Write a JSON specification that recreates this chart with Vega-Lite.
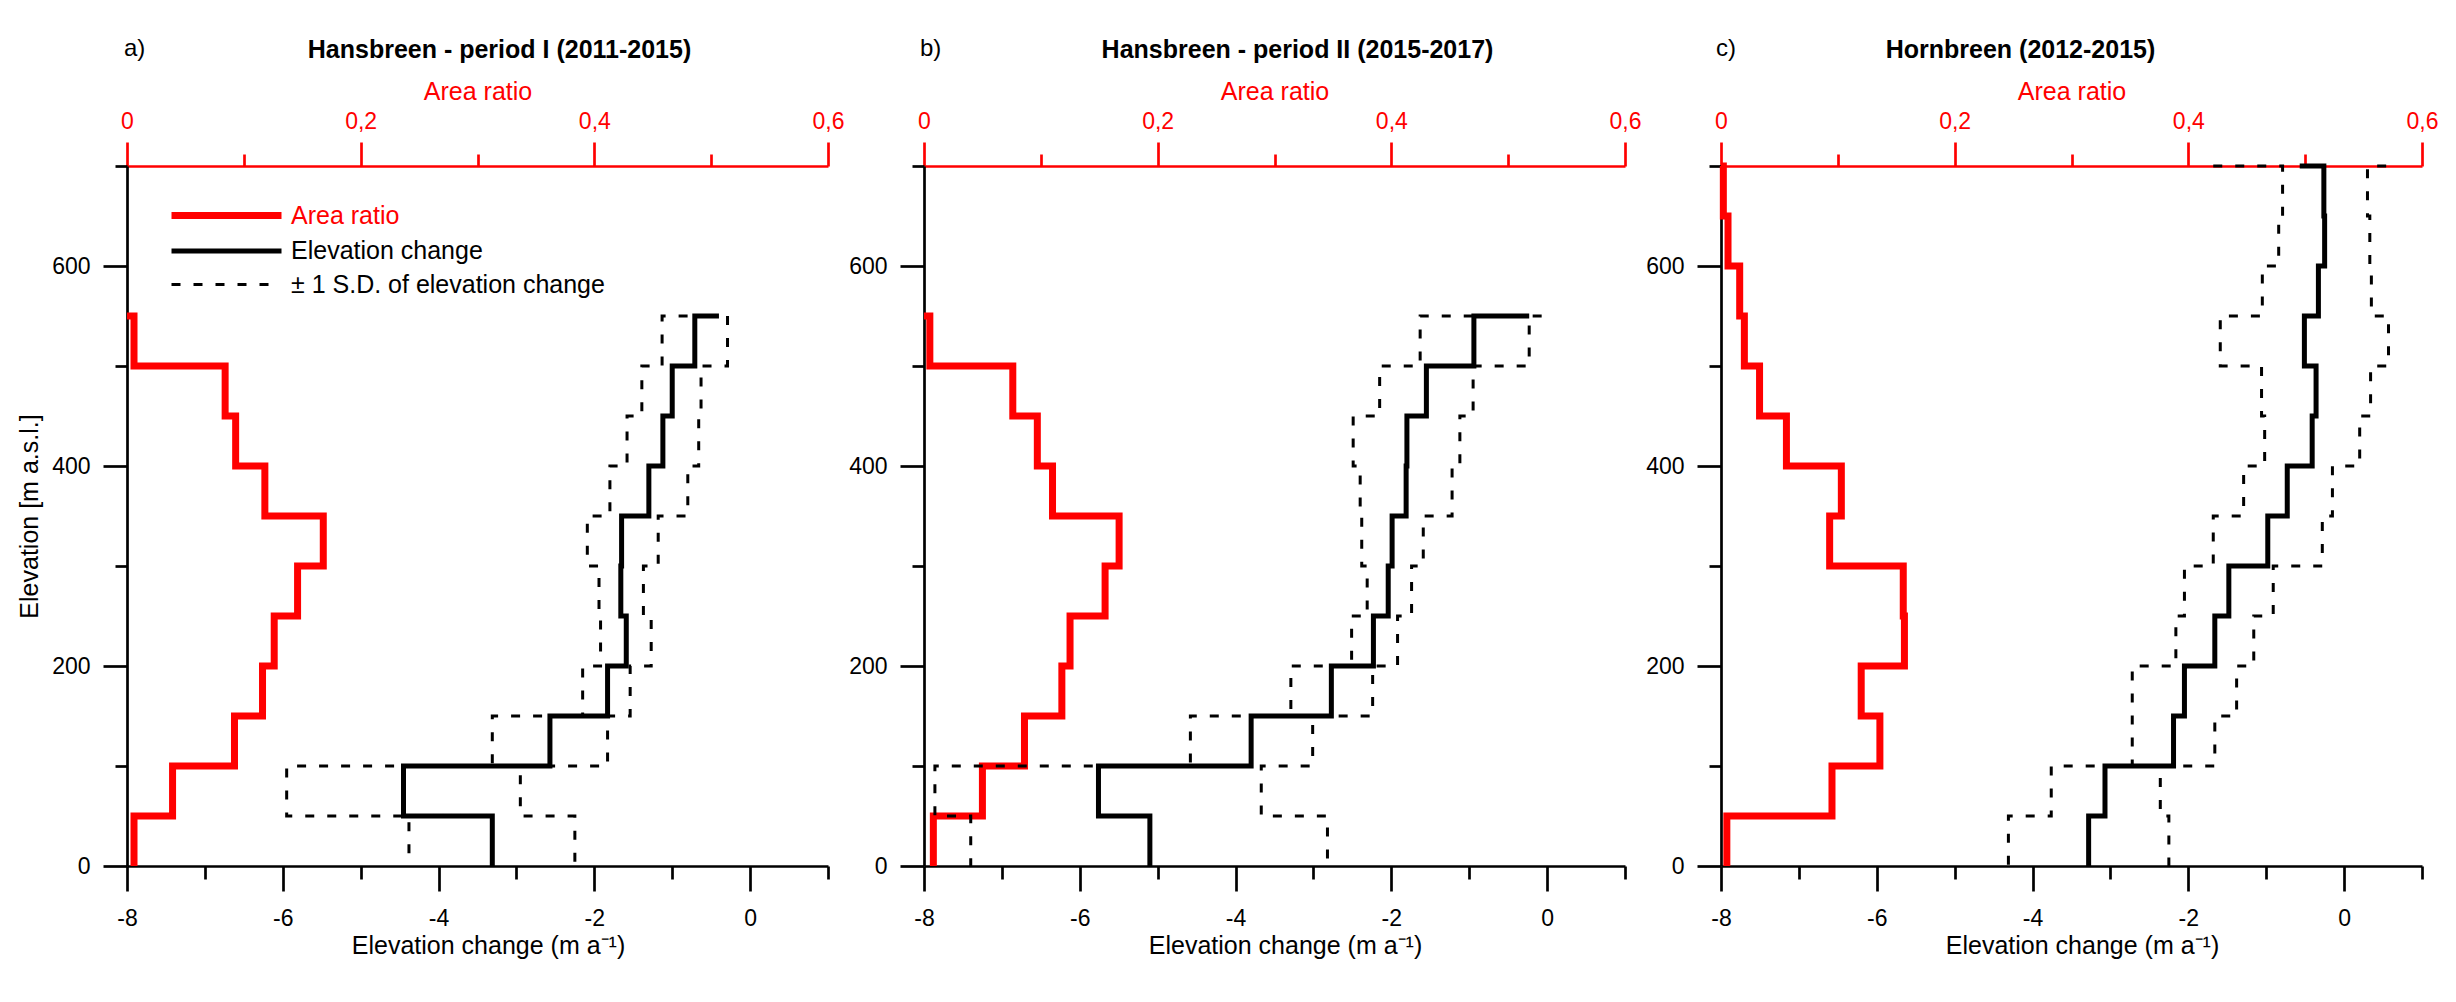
{
  "$schema": "https://vega.github.io/schema/vega-lite/v6.json",
  "padding": {"left": 17, "top": 37, "right": 5, "bottom": 5},
  "datasets": {
    "bands": [
      {"p": "a", "s": "A", "d": 0, "lo": 550, "hi": 550, "v": 0},
      {"p": "a", "s": "A", "d": 0, "lo": 500, "hi": 550, "v": 0.006},
      {"p": "a", "s": "A", "d": 0, "lo": 450, "hi": 500, "v": 0.084},
      {"p": "a", "s": "A", "d": 0, "lo": 400, "hi": 450, "v": 0.093},
      {"p": "a", "s": "A", "d": 0, "lo": 350, "hi": 400, "v": 0.118},
      {"p": "a", "s": "A", "d": 0, "lo": 300, "hi": 350, "v": 0.168},
      {"p": "a", "s": "A", "d": 0, "lo": 250, "hi": 300, "v": 0.146},
      {"p": "a", "s": "A", "d": 0, "lo": 200, "hi": 250, "v": 0.126},
      {"p": "a", "s": "A", "d": 0, "lo": 150, "hi": 200, "v": 0.116},
      {"p": "a", "s": "A", "d": 0, "lo": 100, "hi": 150, "v": 0.092},
      {"p": "a", "s": "A", "d": 0, "lo": 50, "hi": 100, "v": 0.039},
      {"p": "a", "s": "A", "d": 0, "lo": 0, "hi": 50, "v": 0.006},
      {"p": "a", "s": "E", "d": 0, "lo": 550, "hi": 550, "v": -0.4},
      {"p": "a", "s": "E", "d": 0, "lo": 500, "hi": 550, "v": -0.71},
      {"p": "a", "s": "E", "d": 0, "lo": 450, "hi": 500, "v": -1.0},
      {"p": "a", "s": "E", "d": 0, "lo": 400, "hi": 450, "v": -1.12},
      {"p": "a", "s": "E", "d": 0, "lo": 350, "hi": 400, "v": -1.3},
      {"p": "a", "s": "E", "d": 0, "lo": 300, "hi": 350, "v": -1.65},
      {"p": "a", "s": "E", "d": 0, "lo": 250, "hi": 300, "v": -1.66},
      {"p": "a", "s": "E", "d": 0, "lo": 200, "hi": 250, "v": -1.59},
      {"p": "a", "s": "E", "d": 0, "lo": 150, "hi": 200, "v": -1.83},
      {"p": "a", "s": "E", "d": 0, "lo": 100, "hi": 150, "v": -2.57},
      {"p": "a", "s": "E", "d": 0, "lo": 50, "hi": 100, "v": -4.45},
      {"p": "a", "s": "E", "d": 0, "lo": 0, "hi": 50, "v": -3.31},
      {"p": "a", "s": "S", "d": 0, "lo": 550, "hi": 550, "v": -0.52},
      {"p": "a", "s": "S", "d": 0, "lo": 500, "hi": 550, "v": -1.13},
      {"p": "a", "s": "S", "d": 0, "lo": 450, "hi": 500, "v": -1.39},
      {"p": "a", "s": "S", "d": 0, "lo": 400, "hi": 450, "v": -1.58},
      {"p": "a", "s": "S", "d": 0, "lo": 350, "hi": 400, "v": -1.8},
      {"p": "a", "s": "S", "d": 0, "lo": 300, "hi": 350, "v": -2.09},
      {"p": "a", "s": "S", "d": 0, "lo": 250, "hi": 300, "v": -1.94},
      {"p": "a", "s": "S", "d": 0, "lo": 200, "hi": 250, "v": -1.92},
      {"p": "a", "s": "S", "d": 0, "lo": 150, "hi": 200, "v": -2.15},
      {"p": "a", "s": "S", "d": 0, "lo": 100, "hi": 150, "v": -3.31},
      {"p": "a", "s": "S", "d": 0, "lo": 50, "hi": 100, "v": -5.95},
      {"p": "a", "s": "S", "d": 0, "lo": 0, "hi": 50, "v": -4.38},
      {"p": "a", "s": "S", "d": 1, "lo": 550, "hi": 550, "v": -0.29},
      {"p": "a", "s": "S", "d": 1, "lo": 500, "hi": 550, "v": -0.29},
      {"p": "a", "s": "S", "d": 1, "lo": 450, "hi": 500, "v": -0.63},
      {"p": "a", "s": "S", "d": 1, "lo": 400, "hi": 450, "v": -0.66},
      {"p": "a", "s": "S", "d": 1, "lo": 350, "hi": 400, "v": -0.8},
      {"p": "a", "s": "S", "d": 1, "lo": 300, "hi": 350, "v": -1.18},
      {"p": "a", "s": "S", "d": 1, "lo": 250, "hi": 300, "v": -1.37},
      {"p": "a", "s": "S", "d": 1, "lo": 200, "hi": 250, "v": -1.27},
      {"p": "a", "s": "S", "d": 1, "lo": 150, "hi": 200, "v": -1.54},
      {"p": "a", "s": "S", "d": 1, "lo": 100, "hi": 150, "v": -1.83},
      {"p": "a", "s": "S", "d": 1, "lo": 50, "hi": 100, "v": -2.95},
      {"p": "a", "s": "S", "d": 1, "lo": 0, "hi": 50, "v": -2.25},

      {"p": "b", "s": "A", "d": 0, "lo": 550, "hi": 550, "v": 0},
      {"p": "b", "s": "A", "d": 0, "lo": 500, "hi": 550, "v": 0.005},
      {"p": "b", "s": "A", "d": 0, "lo": 450, "hi": 500, "v": 0.076},
      {"p": "b", "s": "A", "d": 0, "lo": 400, "hi": 450, "v": 0.097},
      {"p": "b", "s": "A", "d": 0, "lo": 350, "hi": 400, "v": 0.11},
      {"p": "b", "s": "A", "d": 0, "lo": 300, "hi": 350, "v": 0.167},
      {"p": "b", "s": "A", "d": 0, "lo": 250, "hi": 300, "v": 0.155},
      {"p": "b", "s": "A", "d": 0, "lo": 200, "hi": 250, "v": 0.125},
      {"p": "b", "s": "A", "d": 0, "lo": 150, "hi": 200, "v": 0.118},
      {"p": "b", "s": "A", "d": 0, "lo": 100, "hi": 150, "v": 0.086},
      {"p": "b", "s": "A", "d": 0, "lo": 50, "hi": 100, "v": 0.05},
      {"p": "b", "s": "A", "d": 0, "lo": 0, "hi": 50, "v": 0.008},
      {"p": "b", "s": "E", "d": 0, "lo": 550, "hi": 550, "v": -0.23},
      {"p": "b", "s": "E", "d": 0, "lo": 500, "hi": 550, "v": -0.94},
      {"p": "b", "s": "E", "d": 0, "lo": 450, "hi": 500, "v": -1.55},
      {"p": "b", "s": "E", "d": 0, "lo": 400, "hi": 450, "v": -1.8},
      {"p": "b", "s": "E", "d": 0, "lo": 350, "hi": 400, "v": -1.81},
      {"p": "b", "s": "E", "d": 0, "lo": 300, "hi": 350, "v": -1.99},
      {"p": "b", "s": "E", "d": 0, "lo": 250, "hi": 300, "v": -2.04},
      {"p": "b", "s": "E", "d": 0, "lo": 200, "hi": 250, "v": -2.23},
      {"p": "b", "s": "E", "d": 0, "lo": 150, "hi": 200, "v": -2.77},
      {"p": "b", "s": "E", "d": 0, "lo": 100, "hi": 150, "v": -3.8},
      {"p": "b", "s": "E", "d": 0, "lo": 50, "hi": 100, "v": -5.76},
      {"p": "b", "s": "E", "d": 0, "lo": 0, "hi": 50, "v": -5.1},
      {"p": "b", "s": "S", "d": 0, "lo": 550, "hi": 550, "v": -0.39},
      {"p": "b", "s": "S", "d": 0, "lo": 500, "hi": 550, "v": -1.63},
      {"p": "b", "s": "S", "d": 0, "lo": 450, "hi": 500, "v": -2.15},
      {"p": "b", "s": "S", "d": 0, "lo": 400, "hi": 450, "v": -2.49},
      {"p": "b", "s": "S", "d": 0, "lo": 350, "hi": 400, "v": -2.4},
      {"p": "b", "s": "S", "d": 0, "lo": 300, "hi": 350, "v": -2.38},
      {"p": "b", "s": "S", "d": 0, "lo": 250, "hi": 300, "v": -2.31},
      {"p": "b", "s": "S", "d": 0, "lo": 200, "hi": 250, "v": -2.51},
      {"p": "b", "s": "S", "d": 0, "lo": 150, "hi": 200, "v": -3.29},
      {"p": "b", "s": "S", "d": 0, "lo": 100, "hi": 150, "v": -4.58},
      {"p": "b", "s": "S", "d": 0, "lo": 50, "hi": 100, "v": -7.86},
      {"p": "b", "s": "S", "d": 0, "lo": 0, "hi": 50, "v": -7.4},
      {"p": "b", "s": "S", "d": 1, "lo": 550, "hi": 550, "v": -0.07},
      {"p": "b", "s": "S", "d": 1, "lo": 500, "hi": 550, "v": -0.23},
      {"p": "b", "s": "S", "d": 1, "lo": 450, "hi": 500, "v": -0.95},
      {"p": "b", "s": "S", "d": 1, "lo": 400, "hi": 450, "v": -1.12},
      {"p": "b", "s": "S", "d": 1, "lo": 350, "hi": 400, "v": -1.22},
      {"p": "b", "s": "S", "d": 1, "lo": 300, "hi": 350, "v": -1.59},
      {"p": "b", "s": "S", "d": 1, "lo": 250, "hi": 300, "v": -1.74},
      {"p": "b", "s": "S", "d": 1, "lo": 200, "hi": 250, "v": -1.92},
      {"p": "b", "s": "S", "d": 1, "lo": 150, "hi": 200, "v": -2.24},
      {"p": "b", "s": "S", "d": 1, "lo": 100, "hi": 150, "v": -3.01},
      {"p": "b", "s": "S", "d": 1, "lo": 50, "hi": 100, "v": -3.67},
      {"p": "b", "s": "S", "d": 1, "lo": 0, "hi": 50, "v": -2.82},

      {"p": "c", "s": "A", "d": 0, "lo": 700, "hi": 700, "v": 0},
      {"p": "c", "s": "A", "d": 0, "lo": 650, "hi": 700, "v": 0.002},
      {"p": "c", "s": "A", "d": 0, "lo": 600, "hi": 650, "v": 0.006},
      {"p": "c", "s": "A", "d": 0, "lo": 550, "hi": 600, "v": 0.016},
      {"p": "c", "s": "A", "d": 0, "lo": 500, "hi": 550, "v": 0.02},
      {"p": "c", "s": "A", "d": 0, "lo": 450, "hi": 500, "v": 0.033},
      {"p": "c", "s": "A", "d": 0, "lo": 400, "hi": 450, "v": 0.056},
      {"p": "c", "s": "A", "d": 0, "lo": 350, "hi": 400, "v": 0.103},
      {"p": "c", "s": "A", "d": 0, "lo": 300, "hi": 350, "v": 0.093},
      {"p": "c", "s": "A", "d": 0, "lo": 250, "hi": 300, "v": 0.156},
      {"p": "c", "s": "A", "d": 0, "lo": 200, "hi": 250, "v": 0.157},
      {"p": "c", "s": "A", "d": 0, "lo": 150, "hi": 200, "v": 0.12},
      {"p": "c", "s": "A", "d": 0, "lo": 100, "hi": 150, "v": 0.136},
      {"p": "c", "s": "A", "d": 0, "lo": 50, "hi": 100, "v": 0.095},
      {"p": "c", "s": "A", "d": 0, "lo": 0, "hi": 50, "v": 0.005},
      {"p": "c", "s": "E", "d": 0, "lo": 700, "hi": 700, "v": -0.57},
      {"p": "c", "s": "E", "d": 0, "lo": 650, "hi": 700, "v": -0.26},
      {"p": "c", "s": "E", "d": 0, "lo": 600, "hi": 650, "v": -0.25},
      {"p": "c", "s": "E", "d": 0, "lo": 550, "hi": 600, "v": -0.33},
      {"p": "c", "s": "E", "d": 0, "lo": 500, "hi": 550, "v": -0.51},
      {"p": "c", "s": "E", "d": 0, "lo": 450, "hi": 500, "v": -0.36},
      {"p": "c", "s": "E", "d": 0, "lo": 400, "hi": 450, "v": -0.41},
      {"p": "c", "s": "E", "d": 0, "lo": 350, "hi": 400, "v": -0.73},
      {"p": "c", "s": "E", "d": 0, "lo": 300, "hi": 350, "v": -0.98},
      {"p": "c", "s": "E", "d": 0, "lo": 250, "hi": 300, "v": -1.48},
      {"p": "c", "s": "E", "d": 0, "lo": 200, "hi": 250, "v": -1.66},
      {"p": "c", "s": "E", "d": 0, "lo": 150, "hi": 200, "v": -2.05},
      {"p": "c", "s": "E", "d": 0, "lo": 100, "hi": 150, "v": -2.19},
      {"p": "c", "s": "E", "d": 0, "lo": 50, "hi": 100, "v": -3.07},
      {"p": "c", "s": "E", "d": 0, "lo": 0, "hi": 50, "v": -3.28},
      {"p": "c", "s": "S", "d": 0, "lo": 700, "hi": 700, "v": -1.68},
      {"p": "c", "s": "S", "d": 0, "lo": 650, "hi": 700, "v": -0.79},
      {"p": "c", "s": "S", "d": 0, "lo": 600, "hi": 650, "v": -0.84},
      {"p": "c", "s": "S", "d": 0, "lo": 550, "hi": 600, "v": -1.05},
      {"p": "c", "s": "S", "d": 0, "lo": 500, "hi": 550, "v": -1.59},
      {"p": "c", "s": "S", "d": 0, "lo": 450, "hi": 500, "v": -1.06},
      {"p": "c", "s": "S", "d": 0, "lo": 400, "hi": 450, "v": -1.02},
      {"p": "c", "s": "S", "d": 0, "lo": 350, "hi": 400, "v": -1.29},
      {"p": "c", "s": "S", "d": 0, "lo": 300, "hi": 350, "v": -1.68},
      {"p": "c", "s": "S", "d": 0, "lo": 250, "hi": 300, "v": -2.05},
      {"p": "c", "s": "S", "d": 0, "lo": 200, "hi": 250, "v": -2.16},
      {"p": "c", "s": "S", "d": 0, "lo": 150, "hi": 200, "v": -2.72},
      {"p": "c", "s": "S", "d": 0, "lo": 100, "hi": 150, "v": -2.72},
      {"p": "c", "s": "S", "d": 0, "lo": 50, "hi": 100, "v": -3.76},
      {"p": "c", "s": "S", "d": 0, "lo": 0, "hi": 50, "v": -4.31},
      {"p": "c", "s": "S", "d": 1, "lo": 700, "hi": 700, "v": 0.54},
      {"p": "c", "s": "S", "d": 1, "lo": 650, "hi": 700, "v": 0.3},
      {"p": "c", "s": "S", "d": 1, "lo": 600, "hi": 650, "v": 0.33},
      {"p": "c", "s": "S", "d": 1, "lo": 550, "hi": 600, "v": 0.35},
      {"p": "c", "s": "S", "d": 1, "lo": 500, "hi": 550, "v": 0.57},
      {"p": "c", "s": "S", "d": 1, "lo": 450, "hi": 500, "v": 0.34},
      {"p": "c", "s": "S", "d": 1, "lo": 400, "hi": 450, "v": 0.2},
      {"p": "c", "s": "S", "d": 1, "lo": 350, "hi": 400, "v": -0.15},
      {"p": "c", "s": "S", "d": 1, "lo": 300, "hi": 350, "v": -0.28},
      {"p": "c", "s": "S", "d": 1, "lo": 250, "hi": 300, "v": -0.91},
      {"p": "c", "s": "S", "d": 1, "lo": 200, "hi": 250, "v": -1.16},
      {"p": "c", "s": "S", "d": 1, "lo": 150, "hi": 200, "v": -1.38},
      {"p": "c", "s": "S", "d": 1, "lo": 100, "hi": 150, "v": -1.66},
      {"p": "c", "s": "S", "d": 1, "lo": 50, "hi": 100, "v": -2.36},
      {"p": "c", "s": "S", "d": 1, "lo": 0, "hi": 50, "v": -2.25}
    ]
  },
  "hconcat": [
    {
      "title": {"text": "a)", "anchor": "start", "frame": "group", "fontWeight": "normal", "fontSize": 24, "dx": -3, "dy": 23, "offset": 0},
      "resolve": {"scale": {"color": "independent", "strokeDash": "independent", "strokeWidth": "independent"}},
      "vconcat": [
        {
          "title": {"text": "Hansbreen - period I (2011-2015)", "anchor": "middle", "frame": "group", "dx": 22, "fontWeight": "bold", "fontSize": 25, "offset": 16},
          "width": 701,
          "height": 700,
          "data": {"name": "bands"},
          "transform": [
            {"filter": "datum.p == 'a'"},
            {"fold": ["lo", "hi"], "as": ["k", "elev"]}
          ],
          "resolve": {"scale": {"x": "independent"}},
          "layer": [
            {
              "transform": [{"filter": "datum.s == 'A'"}],
              "mark": {"type": "line", "orient": "horizontal", "strokeJoin": "miter"},
              "encoding": {
                "x": {
                  "field": "v", "type": "quantitative",
                  "scale": {"domain": [0, 0.6], "nice": false, "zero": false},
                  "axis": {
                    "orient": "top", "values": [0, 0.1, 0.2, 0.3, 0.4, 0.5, 0.6],
                    "title": "Area ratio", "titleColor": "#ff0000", "labelColor": "#ff0000",
                    "domainColor": "#ff0000", "tickColor": "#ff0000",
                    "labelExpr": "abs(datum.value * 5 - round(datum.value * 5)) < 0.001 ? replace(format(datum.value, '~g'), '.', ',') : ''",
                    "tickSize": {"condition": {"test": "abs(datum.value * 5 - round(datum.value * 5)) < 0.001", "value": 24}, "value": 12},
                    "labelPadding": 9, "titlePadding": 6
                  }
                },
                "y": {
                  "field": "elev", "type": "quantitative",
                  "scale": {"domain": [0, 700], "nice": false},
                  "axis": {
                    "values": [0, 100, 200, 300, 400, 500, 600, 700], "title": "Elevation [m a.s.l.]",
                    "labelExpr": "datum.value % 200 == 0 ? datum.label : ''",
                    "tickSize": {"condition": {"test": "datum.value % 200 == 0", "value": 24}, "value": 12},
                    "labelPadding": 13, "titlePadding": 9
                  }
                },
                "color": {
                  "field": "s", "type": "nominal",
                  "scale": {"domain": ["A", "E", "S"], "range": ["#ff0000", "#000000", "#000000"]},
                  "legend": {
                    "orient": "none", "legendX": 85, "legendY": 35, "title": null, "padding": 0,
                    "symbolType": "M-5,0H5", "symbolSize": 484, "labelFontSize": 25, "labelOffset": 50,
                    "rowPadding": 7.5, "labelLimit": 600,
                    "labelExpr": "datum.value == 'A' ? 'Area ratio' : datum.value == 'E' ? 'Elevation change' : '± 1 S.D. of elevation change'",
                    "labelColor": {"expr": "datum.value == 'A' ? '#ff0000' : '#000000'"}
                  }
                },
                "strokeDash": {
                  "field": "s", "type": "nominal",
                  "scale": {"domain": ["A", "E", "S"], "range": [[1, 0], [1, 0], [9, 13]]},
                  "legend": {
                    "orient": "none", "legendX": 85, "legendY": 35, "title": null, "padding": 0,
                    "symbolType": "M-5,0H5", "symbolSize": 484, "labelFontSize": 25, "labelOffset": 50,
                    "rowPadding": 7.5, "labelLimit": 600,
                    "labelExpr": "datum.value == 'A' ? 'Area ratio' : datum.value == 'E' ? 'Elevation change' : '± 1 S.D. of elevation change'",
                    "labelColor": {"expr": "datum.value == 'A' ? '#ff0000' : '#000000'"}
                  }
                },
                "strokeWidth": {
                  "field": "s", "type": "ordinal",
                  "scale": {"domain": ["A", "E", "S"], "range": [7, 3]},
                  "legend": {
                    "orient": "none", "legendX": 85, "legendY": 35, "title": null, "padding": 0,
                    "symbolType": "M-5,0H5", "symbolSize": 484, "labelFontSize": 25, "labelOffset": 50,
                    "rowPadding": 7.5, "labelLimit": 600,
                    "labelExpr": "datum.value == 'A' ? 'Area ratio' : datum.value == 'E' ? 'Elevation change' : '± 1 S.D. of elevation change'",
                    "labelColor": {"expr": "datum.value == 'A' ? '#ff0000' : '#000000'"}
                  }
                }
              }
            },
            {
              "layer": [
                {
                  "transform": [{"filter": "datum.s == 'E'"}],
                  "mark": {"type": "line", "orient": "horizontal", "strokeJoin": "miter"},
                  "encoding": {
                    "x": {
                      "field": "v", "type": "quantitative",
                      "scale": {"domain": [-8, 1], "nice": false, "zero": false},
                      "axis": {
                        "orient": "bottom", "values": [-8, -7, -6, -5, -4, -3, -2, -1, 0, 1],
                        "title": "Elevation change (m a⁻¹)", "titleX": 361,
                        "labelExpr": "datum.value % 2 == 0 ? '' + datum.value : ''",
                        "tickSize": {"condition": {"test": "datum.value % 2 == 0", "value": 25}, "value": 13},
                        "labelPadding": 16, "titlePadding": 3
                      }
                    },
                    "y": {
                      "field": "elev", "type": "quantitative",
                      "scale": {"domain": [0, 700], "nice": false},
                      "axis": {
                        "values": [0, 100, 200, 300, 400, 500, 600, 700], "title": "Elevation [m a.s.l.]",
                        "labelExpr": "datum.value % 200 == 0 ? datum.label : ''",
                        "tickSize": {"condition": {"test": "datum.value % 200 == 0", "value": 24}, "value": 12},
                        "labelPadding": 13, "titlePadding": 9
                      }
                    },
                    "color": {"field": "s", "type": "nominal", "scale": {"domain": ["A", "E", "S"], "range": ["#ff0000", "#000000", "#000000"]}},
                    "strokeDash": {"field": "s", "type": "nominal", "scale": {"domain": ["A", "E", "S"], "range": [[1, 0], [1, 0], [9, 13]]}},
                    "strokeWidth": {"field": "s", "type": "ordinal", "scale": {"domain": ["A", "E", "S"], "range": [7, 3]}}
                  }
                },
                {
                  "transform": [{"filter": "datum.s == 'S'"}],
                  "mark": {"type": "line", "orient": "horizontal", "strokeJoin": "miter"},
                  "encoding": {
                    "x": {
                      "field": "v", "type": "quantitative",
                      "scale": {"domain": [-8, 1], "nice": false, "zero": false},
                      "axis": {
                        "orient": "bottom", "values": [-8, -7, -6, -5, -4, -3, -2, -1, 0, 1],
                        "title": "Elevation change (m a⁻¹)", "titleX": 361,
                        "labelExpr": "datum.value % 2 == 0 ? '' + datum.value : ''",
                        "tickSize": {"condition": {"test": "datum.value % 2 == 0", "value": 25}, "value": 13},
                        "labelPadding": 16, "titlePadding": 3
                      }
                    },
                    "y": {
                      "field": "elev", "type": "quantitative",
                      "scale": {"domain": [0, 700], "nice": false},
                      "axis": {
                        "values": [0, 100, 200, 300, 400, 500, 600, 700], "title": "Elevation [m a.s.l.]",
                        "labelExpr": "datum.value % 200 == 0 ? datum.label : ''",
                        "tickSize": {"condition": {"test": "datum.value % 200 == 0", "value": 24}, "value": 12},
                        "labelPadding": 13, "titlePadding": 9
                      }
                    },
                    "detail": {"field": "d", "type": "nominal"},
                    "color": {"field": "s", "type": "nominal", "scale": {"domain": ["A", "E", "S"], "range": ["#ff0000", "#000000", "#000000"]}},
                    "strokeDash": {"field": "s", "type": "nominal", "scale": {"domain": ["A", "E", "S"], "range": [[1, 0], [1, 0], [9, 13]]}},
                    "strokeWidth": {"field": "s", "type": "ordinal", "scale": {"domain": ["A", "E", "S"], "range": [7, 3]}}
                  }
                }
              ]
            }
          ]
        }
      ]
    },
    {
      "title": {"text": "b)", "anchor": "start", "frame": "group", "fontWeight": "normal", "fontSize": 24, "dx": -4, "dy": 23, "offset": 0},
      "vconcat": [
        {
          "title": {"text": "Hansbreen - period II (2015-2017)", "anchor": "middle", "frame": "group", "dx": 23, "fontWeight": "bold", "fontSize": 25, "offset": 16},
          "width": 701,
          "height": 700,
          "data": {"name": "bands"},
          "transform": [
            {"filter": "datum.p == 'b'"},
            {"fold": ["lo", "hi"], "as": ["k", "elev"]}
          ],
          "resolve": {"scale": {"x": "independent"}},
          "layer": [
            {
              "transform": [{"filter": "datum.s == 'A'"}],
              "mark": {"type": "line", "orient": "horizontal", "color": "#ff0000", "strokeWidth": 7, "strokeJoin": "miter"},
              "encoding": {
                "x": {
                  "field": "v", "type": "quantitative",
                  "scale": {"domain": [0, 0.6], "nice": false, "zero": false},
                  "axis": {
                    "orient": "top", "values": [0, 0.1, 0.2, 0.3, 0.4, 0.5, 0.6],
                    "title": "Area ratio", "titleColor": "#ff0000", "labelColor": "#ff0000",
                    "domainColor": "#ff0000", "tickColor": "#ff0000",
                    "labelExpr": "abs(datum.value * 5 - round(datum.value * 5)) < 0.001 ? replace(format(datum.value, '~g'), '.', ',') : ''",
                    "tickSize": {"condition": {"test": "abs(datum.value * 5 - round(datum.value * 5)) < 0.001", "value": 24}, "value": 12},
                    "labelPadding": 9, "titlePadding": 6
                  }
                },
                "y": {
                  "field": "elev", "type": "quantitative",
                  "scale": {"domain": [0, 700], "nice": false},
                  "axis": {
                    "values": [0, 100, 200, 300, 400, 500, 600, 700], "title": null,
                    "labelExpr": "datum.value % 200 == 0 ? datum.label : ''",
                    "tickSize": {"condition": {"test": "datum.value % 200 == 0", "value": 24}, "value": 12},
                    "labelPadding": 13
                  }
                }
              }
            },
            {
              "layer": [
                {
                  "transform": [{"filter": "datum.s == 'E'"}],
                  "mark": {"type": "line", "orient": "horizontal", "color": "#000000", "strokeWidth": 5, "strokeJoin": "miter"},
                  "encoding": {
                    "x": {
                      "field": "v", "type": "quantitative",
                      "scale": {"domain": [-8, 1], "nice": false, "zero": false},
                      "axis": {
                        "orient": "bottom", "values": [-8, -7, -6, -5, -4, -3, -2, -1, 0, 1],
                        "title": "Elevation change (m a⁻¹)", "titleX": 361,
                        "labelExpr": "datum.value % 2 == 0 ? '' + datum.value : ''",
                        "tickSize": {"condition": {"test": "datum.value % 2 == 0", "value": 25}, "value": 13},
                        "labelPadding": 16, "titlePadding": 3
                      }
                    },
                    "y": {
                      "field": "elev", "type": "quantitative",
                      "scale": {"domain": [0, 700], "nice": false},
                      "axis": {
                        "values": [0, 100, 200, 300, 400, 500, 600, 700], "title": null,
                        "labelExpr": "datum.value % 200 == 0 ? datum.label : ''",
                        "tickSize": {"condition": {"test": "datum.value % 200 == 0", "value": 24}, "value": 12},
                        "labelPadding": 13
                      }
                    }
                  }
                },
                {
                  "transform": [{"filter": "datum.s == 'S'"}],
                  "mark": {"type": "line", "orient": "horizontal", "color": "#000000", "strokeWidth": 3, "strokeDash": [9, 13], "strokeJoin": "miter"},
                  "encoding": {
                    "x": {
                      "field": "v", "type": "quantitative",
                      "scale": {"domain": [-8, 1], "nice": false, "zero": false},
                      "axis": {
                        "orient": "bottom", "values": [-8, -7, -6, -5, -4, -3, -2, -1, 0, 1],
                        "title": "Elevation change (m a⁻¹)", "titleX": 361,
                        "labelExpr": "datum.value % 2 == 0 ? '' + datum.value : ''",
                        "tickSize": {"condition": {"test": "datum.value % 2 == 0", "value": 25}, "value": 13},
                        "labelPadding": 16, "titlePadding": 3
                      }
                    },
                    "y": {
                      "field": "elev", "type": "quantitative",
                      "scale": {"domain": [0, 700], "nice": false},
                      "axis": {
                        "values": [0, 100, 200, 300, 400, 500, 600, 700], "title": null,
                        "labelExpr": "datum.value % 200 == 0 ? datum.label : ''",
                        "tickSize": {"condition": {"test": "datum.value % 200 == 0", "value": 24}, "value": 12},
                        "labelPadding": 13
                      }
                    },
                    "detail": {"field": "d", "type": "nominal"}
                  }
                }
              ]
            }
          ]
        }
      ]
    },
    {
      "title": {"text": "c)", "anchor": "start", "frame": "group", "fontWeight": "normal", "fontSize": 24, "dx": -5, "dy": 23, "offset": 0},
      "vconcat": [
        {
          "title": {"text": "Hornbreen (2012-2015)", "anchor": "middle", "frame": "group", "dx": -51, "fontWeight": "bold", "fontSize": 25, "offset": 16},
          "width": 701,
          "height": 700,
          "data": {"name": "bands"},
          "transform": [
            {"filter": "datum.p == 'c'"},
            {"fold": ["lo", "hi"], "as": ["k", "elev"]}
          ],
          "resolve": {"scale": {"x": "independent"}},
          "layer": [
            {
              "transform": [{"filter": "datum.s == 'A'"}],
              "mark": {"type": "line", "orient": "horizontal", "color": "#ff0000", "strokeWidth": 7, "strokeJoin": "miter"},
              "encoding": {
                "x": {
                  "field": "v", "type": "quantitative",
                  "scale": {"domain": [0, 0.6], "nice": false, "zero": false},
                  "axis": {
                    "orient": "top", "values": [0, 0.1, 0.2, 0.3, 0.4, 0.5, 0.6],
                    "title": "Area ratio", "titleColor": "#ff0000", "labelColor": "#ff0000",
                    "domainColor": "#ff0000", "tickColor": "#ff0000",
                    "labelExpr": "abs(datum.value * 5 - round(datum.value * 5)) < 0.001 ? replace(format(datum.value, '~g'), '.', ',') : ''",
                    "tickSize": {"condition": {"test": "abs(datum.value * 5 - round(datum.value * 5)) < 0.001", "value": 24}, "value": 12},
                    "labelPadding": 9, "titlePadding": 6
                  }
                },
                "y": {
                  "field": "elev", "type": "quantitative",
                  "scale": {"domain": [0, 700], "nice": false},
                  "axis": {
                    "values": [0, 100, 200, 300, 400, 500, 600, 700], "title": null,
                    "labelExpr": "datum.value % 200 == 0 ? datum.label : ''",
                    "tickSize": {"condition": {"test": "datum.value % 200 == 0", "value": 24}, "value": 12},
                    "labelPadding": 13
                  }
                }
              }
            },
            {
              "layer": [
                {
                  "transform": [{"filter": "datum.s == 'E'"}],
                  "mark": {"type": "line", "orient": "horizontal", "color": "#000000", "strokeWidth": 5, "strokeJoin": "miter"},
                  "encoding": {
                    "x": {
                      "field": "v", "type": "quantitative",
                      "scale": {"domain": [-8, 1], "nice": false, "zero": false},
                      "axis": {
                        "orient": "bottom", "values": [-8, -7, -6, -5, -4, -3, -2, -1, 0, 1],
                        "title": "Elevation change (m a⁻¹)", "titleX": 361,
                        "labelExpr": "datum.value % 2 == 0 ? '' + datum.value : ''",
                        "tickSize": {"condition": {"test": "datum.value % 2 == 0", "value": 25}, "value": 13},
                        "labelPadding": 16, "titlePadding": 3
                      }
                    },
                    "y": {
                      "field": "elev", "type": "quantitative",
                      "scale": {"domain": [0, 700], "nice": false},
                      "axis": {
                        "values": [0, 100, 200, 300, 400, 500, 600, 700], "title": null,
                        "labelExpr": "datum.value % 200 == 0 ? datum.label : ''",
                        "tickSize": {"condition": {"test": "datum.value % 200 == 0", "value": 24}, "value": 12},
                        "labelPadding": 13
                      }
                    }
                  }
                },
                {
                  "transform": [{"filter": "datum.s == 'S'"}],
                  "mark": {"type": "line", "orient": "horizontal", "color": "#000000", "strokeWidth": 3, "strokeDash": [9, 13], "strokeJoin": "miter"},
                  "encoding": {
                    "x": {
                      "field": "v", "type": "quantitative",
                      "scale": {"domain": [-8, 1], "nice": false, "zero": false},
                      "axis": {
                        "orient": "bottom", "values": [-8, -7, -6, -5, -4, -3, -2, -1, 0, 1],
                        "title": "Elevation change (m a⁻¹)", "titleX": 361,
                        "labelExpr": "datum.value % 2 == 0 ? '' + datum.value : ''",
                        "tickSize": {"condition": {"test": "datum.value % 2 == 0", "value": 25}, "value": 13},
                        "labelPadding": 16, "titlePadding": 3
                      }
                    },
                    "y": {
                      "field": "elev", "type": "quantitative",
                      "scale": {"domain": [0, 700], "nice": false},
                      "axis": {
                        "values": [0, 100, 200, 300, 400, 500, 600, 700], "title": null,
                        "labelExpr": "datum.value % 200 == 0 ? datum.label : ''",
                        "tickSize": {"condition": {"test": "datum.value % 200 == 0", "value": 24}, "value": 12},
                        "labelPadding": 13
                      }
                    },
                    "detail": {"field": "d", "type": "nominal"}
                  }
                }
              ]
            }
          ]
        }
      ]
    }
  ],
  "spacing": 4,
  "resolve": {"scale": {"color": "independent", "strokeDash": "independent", "strokeWidth": "independent"}},
  "config": {
    "font": "Liberation Sans",
    "view": {"stroke": null},
    "axis": {
      "labelFont": "Liberation Sans", "titleFont": "Liberation Sans",
      "labelFontSize": 23, "titleFontSize": 25, "titleFontWeight": "normal",
      "labelColor": "#000000", "titleColor": "#000000",
      "domainColor": "#000000", "tickColor": "#000000",
      "domainWidth": 2.7, "tickWidth": 2.7, "grid": false,
      "labelFlush": false, "labelOverlap": false, "labelBound": false
    },
    "legend": {"labelFont": "Liberation Sans"},
    "title": {"font": "Liberation Sans", "color": "#000000"}
  }
}
